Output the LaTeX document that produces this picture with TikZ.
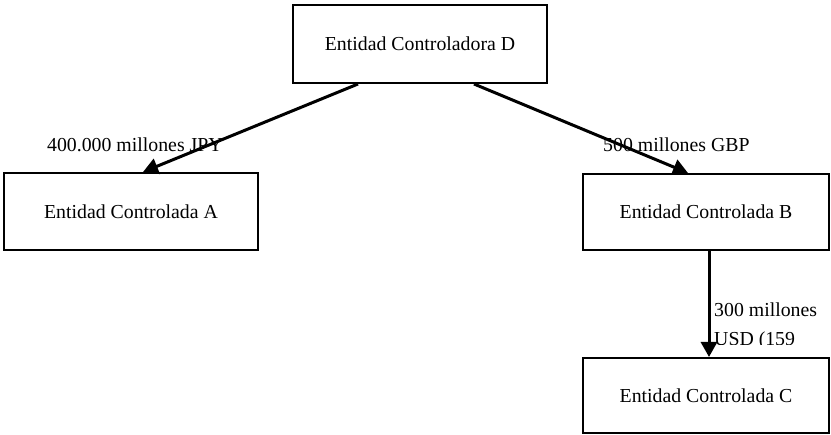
\documentclass[tikz,border=0pt]{standalone}
\usepackage{fontspec}
\setmainfont{Liberation Serif}
\usetikzlibrary{arrows.meta}
\begin{document}
\begin{tikzpicture}[x=1pt,y=-1pt,
  box/.style={draw=black,line width=2pt,rectangle,inner sep=0pt,
    font=\fontsize{19.8}{23}\selectfont},
  lbl/.style={inner sep=0pt,font=\fontsize{19.8}{23}\selectfont},
  conn/.style={line width=3pt,-{Triangle[length=15pt,width=16pt]}}]
\useasboundingbox (0,0) rectangle (831,435);
\node[box,minimum width=254pt,minimum height=78pt] (D) at (420,44) {Entidad Controladora D};
\node[box,minimum width=254pt,minimum height=77pt] (A) at (131,211.5) {Entidad Controlada A};
\node[box,minimum width=246pt,minimum height=76pt] (B) at (706,212) {Entidad Controlada B};
\node[box,minimum width=246pt,minimum height=75pt] (C) at (706,395.5) {Entidad Controlada C};
\draw[conn] ([xshift=-62pt]D.south) -- ([xshift=12pt]A.north);
\draw[conn] ([xshift=54pt]D.south) -- ([xshift=-18pt]B.north);
\draw[conn] ([xshift=3pt]B.south) -- ([xshift=3pt]C.north);
\node[lbl,anchor=base west] (lA) at (47,152) {400.000 millones JPY};
\node[lbl,anchor=base west] (lB) at (603,152) {500 millones GBP};
\node[lbl,anchor=base west] (lC1) at (714,317) {300 millones};
\begin{scope}
\clip (711,322) rectangle (831,344.5);
\node[lbl,anchor=base west] (lC2) at (714,346) {USD (159};
\end{scope}
\end{tikzpicture}
\end{document}
